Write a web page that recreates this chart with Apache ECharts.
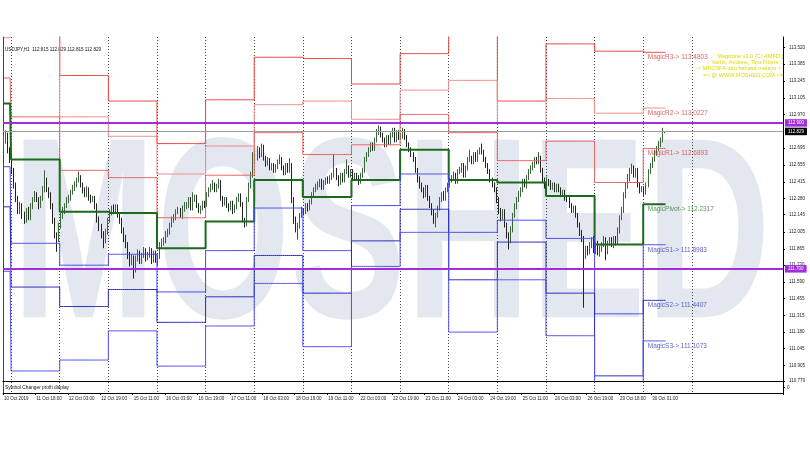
<!DOCTYPE html>
<html>
<head>
<meta charset="utf-8">
<script src="https://cdn.jsdelivr.net/npm/echarts@6/dist/echarts.min.js"></script>
<style>
  html, body { margin: 0; padding: 0; background: #fff; }
  #chart { width: 810px; height: 450px; }
</style>
</head>
<body>
<div id="chart"></div>
<script>
// USDJPY H1 with MagicPivot levels
const barCount = 385;
const labelStep = 16;
const tickLabels = ['10 Oct 2019', '11 Oct 18:00', '12 Oct 03:00', '12 Oct 19:00', '15 Oct 11:00', '16 Oct 03:00',
  '16 Oct 19:00', '17 Oct 11:00', '18 Oct 03:00', '18 Oct 19:00', '19 Oct 11:00', '22 Oct 03:00', '22 Oct 19:00',
  '23 Oct 11:00', '24 Oct 03:00', '24 Oct 19:00', '25 Oct 11:00', '26 Oct 03:00', '26 Oct 19:00', '29 Oct 18:00',
  '30 Oct 01:00'];
const dayStarts = [0, 4, 28, 52, 76, 100, 124, 148, 172, 196, 220, 244, 268, 292, 316];
const lastSeparator = 340;

const opens = [
  112.72,112.76,112.80,112.68,112.60,112.51,112.39,112.28,112.18,112.22,
  112.14,112.10,112.18,112.12,112.22,112.27,112.31,112.27,112.22,112.28,
  112.35,112.43,112.35,112.31,112.22,112.10,111.98,111.94,112.06,112.14,
  112.18,112.22,112.27,112.28,112.33,112.37,112.39,112.43,112.45,112.39,
  112.35,112.31,112.35,112.28,112.27,112.28,112.22,112.10,112.04,111.98,
  111.94,112.00,112.10,112.17,112.20,112.18,112.21,112.14,112.10,112.02,
  111.95,111.90,111.81,111.76,111.79,111.69,111.79,111.83,111.77,111.81,
  111.85,111.79,111.81,111.85,111.77,111.83,111.77,111.80,111.90,111.92,
  111.94,111.98,112.00,112.06,112.10,112.12,112.17,112.18,112.14,112.20,
  112.22,112.22,112.27,112.20,112.27,112.29,112.22,112.18,112.20,112.24,
  112.23,112.31,112.35,112.37,112.39,112.35,112.38,112.41,112.28,112.24,
  112.27,112.22,112.20,112.24,112.18,112.21,112.27,112.30,112.23,112.10,
  112.06,112.27,112.39,112.47,112.59,112.62,112.68,112.64,112.70,112.61,
  112.57,112.60,112.53,112.55,112.51,112.54,112.58,112.60,112.53,112.49,
  112.55,112.51,112.55,112.27,112.10,112.04,112.06,112.14,112.18,112.17,
  112.22,112.20,112.25,112.31,112.35,112.37,112.39,112.42,112.37,112.41,
  112.43,112.42,112.45,112.47,112.51,112.45,112.41,112.47,112.43,112.50,
  112.53,112.47,112.50,112.45,112.47,112.45,112.42,112.47,112.51,112.60,
  112.64,112.68,112.72,112.69,112.76,112.83,112.86,112.80,112.76,112.72,
  112.78,112.74,112.80,112.84,112.76,112.82,112.78,112.79,112.83,112.78,
  112.72,112.68,112.64,112.60,112.51,112.43,112.39,112.35,112.31,112.37,
  112.28,112.22,112.17,112.10,112.14,112.20,112.27,112.31,112.28,112.35,
  112.39,112.43,112.45,112.47,112.42,112.50,112.51,112.55,112.47,112.53,
  112.60,112.61,112.58,112.64,112.60,112.66,112.68,112.66,112.60,112.55,
  112.50,112.43,112.39,112.35,112.27,112.18,112.12,112.17,112.06,111.98,
  111.94,112.02,112.14,112.22,112.27,112.31,112.35,112.42,112.39,112.45,
  112.50,112.53,112.55,112.60,112.58,112.61,112.51,112.43,112.39,112.42,
  112.41,112.37,112.39,112.35,112.38,112.35,112.31,112.33,112.28,112.27,
  112.22,112.18,112.20,112.14,112.06,112.00,111.95,111.81,111.87,111.84,
  111.90,111.94,111.85,111.90,111.84,111.87,111.90,111.94,111.85,111.91,
  111.94,111.90,111.95,111.92,112.02,112.12,112.18,112.31,112.39,112.45,
  112.50,112.53,112.47,112.51,112.39,112.35,112.36,112.33,112.39,112.50,
  112.55,112.60,112.66,112.69,112.72,112.76,112.815
];
const closes = [
  112.76,112.80,112.68,112.60,112.51,112.39,112.28,112.18,112.22,112.14,
  112.10,112.18,112.12,112.22,112.27,112.31,112.27,112.22,112.28,112.35,
  112.43,112.35,112.31,112.22,112.10,111.98,111.94,112.06,112.14,112.18,
  112.22,112.27,112.28,112.33,112.37,112.39,112.43,112.45,112.39,112.35,
  112.31,112.35,112.28,112.27,112.28,112.22,112.10,112.04,111.98,111.94,
  112.00,112.10,112.17,112.20,112.18,112.21,112.14,112.10,112.02,111.95,
  111.90,111.81,111.76,111.79,111.69,111.79,111.83,111.77,111.81,111.85,
  111.79,111.81,111.85,111.77,111.83,111.77,111.80,111.90,111.92,111.94,
  111.98,112.00,112.06,112.10,112.12,112.17,112.18,112.14,112.20,112.22,
  112.22,112.27,112.20,112.27,112.29,112.22,112.18,112.20,112.24,112.23,
  112.31,112.35,112.37,112.39,112.35,112.38,112.41,112.28,112.24,112.27,
  112.22,112.20,112.24,112.18,112.21,112.27,112.30,112.23,112.10,112.06,
  112.27,112.39,112.47,112.59,112.62,112.68,112.64,112.70,112.61,112.57,
  112.60,112.53,112.55,112.51,112.54,112.58,112.60,112.53,112.49,112.55,
  112.51,112.55,112.27,112.10,112.04,112.06,112.14,112.18,112.17,112.22,
  112.20,112.25,112.31,112.35,112.37,112.39,112.42,112.37,112.41,112.43,
  112.42,112.45,112.47,112.51,112.45,112.41,112.47,112.43,112.50,112.53,
  112.47,112.50,112.45,112.47,112.45,112.42,112.47,112.51,112.60,112.64,
  112.68,112.72,112.69,112.76,112.83,112.86,112.80,112.76,112.72,112.78,
  112.74,112.80,112.84,112.76,112.82,112.78,112.79,112.83,112.78,112.72,
  112.68,112.64,112.60,112.51,112.43,112.39,112.35,112.31,112.37,112.28,
  112.22,112.17,112.10,112.14,112.20,112.27,112.31,112.28,112.35,112.39,
  112.43,112.45,112.47,112.42,112.50,112.51,112.55,112.47,112.53,112.60,
  112.61,112.58,112.64,112.60,112.66,112.68,112.66,112.60,112.55,112.50,
  112.43,112.39,112.35,112.27,112.18,112.12,112.17,112.06,111.98,111.94,
  112.02,112.14,112.22,112.27,112.31,112.35,112.42,112.39,112.45,112.50,
  112.53,112.55,112.60,112.58,112.61,112.51,112.43,112.39,112.42,112.41,
  112.37,112.39,112.35,112.38,112.35,112.31,112.33,112.28,112.27,112.22,
  112.18,112.20,112.14,112.06,112.00,111.95,111.81,111.87,111.84,111.90,
  111.94,111.85,111.90,111.84,111.87,111.90,111.94,111.85,111.91,111.94,
  111.90,111.95,111.92,112.02,112.12,112.18,112.31,112.39,112.45,112.50,
  112.53,112.47,112.51,112.39,112.35,112.36,112.33,112.39,112.50,112.55,
  112.60,112.66,112.69,112.72,112.76,112.81,112.829
];
const highs = [
  112.79,112.84,112.82,112.70,112.62,112.53,112.41,112.30,112.25,112.24,
  112.17,112.20,112.21,112.24,112.29,112.34,112.33,112.29,112.30,112.38,
  112.51,112.45,112.37,112.33,112.24,112.12,112.00,112.08,112.16,112.21,
  112.24,112.29,112.31,112.35,112.39,112.42,112.45,112.50,112.47,112.41,
  112.37,112.38,112.37,112.31,112.30,112.30,112.24,112.13,112.07,112.01,
  112.03,112.12,112.19,112.22,112.23,112.23,112.23,112.16,112.12,112.04,
  111.98,111.92,111.84,111.82,111.81,111.81,111.86,111.85,111.83,111.88,
  111.87,111.84,111.88,111.87,111.85,111.85,111.82,111.92,111.95,111.96,
  112.01,112.03,112.08,112.13,112.15,112.19,112.21,112.20,112.22,112.25,
  112.25,112.29,112.29,112.33,112.31,112.31,112.24,112.22,112.26,112.26,
  112.33,112.37,112.40,112.43,112.41,112.40,112.44,112.43,112.30,112.29,
  112.29,112.24,112.26,112.26,112.23,112.29,112.32,112.32,112.25,112.12,
  112.29,112.41,112.50,112.66,112.65,112.71,112.70,112.73,112.72,112.63,
  112.62,112.61,112.57,112.57,112.56,112.60,112.64,112.62,112.55,112.57,
  112.57,112.61,112.57,112.29,112.13,112.08,112.16,112.21,112.20,112.24,
  112.24,112.27,112.33,112.37,112.40,112.42,112.44,112.44,112.43,112.45,
  112.46,112.47,112.49,112.64,112.53,112.47,112.49,112.49,112.52,112.60,
  112.55,112.52,112.52,112.49,112.49,112.47,112.49,112.53,112.62,112.66,
  112.70,112.74,112.74,112.78,112.85,112.88,112.87,112.82,112.78,112.80,
  112.80,112.82,112.86,112.86,112.84,112.84,112.81,112.86,112.85,112.80,
  112.74,112.70,112.66,112.62,112.53,112.46,112.41,112.37,112.39,112.39,
  112.30,112.24,112.19,112.16,112.22,112.29,112.33,112.34,112.37,112.41,
  112.45,112.47,112.50,112.49,112.52,112.54,112.57,112.57,112.55,112.62,
  112.68,112.63,112.66,112.66,112.68,112.70,112.73,112.68,112.62,112.57,
  112.52,112.45,112.41,112.37,112.29,112.20,112.19,112.19,112.08,112.00,
  112.05,112.16,112.24,112.29,112.34,112.37,112.44,112.44,112.47,112.52,
  112.55,112.58,112.62,112.62,112.66,112.63,112.53,112.45,112.46,112.44,
  112.43,112.41,112.41,112.40,112.40,112.37,112.35,112.35,112.30,112.29,
  112.24,112.22,112.22,112.16,112.08,112.02,111.97,111.89,111.89,111.92,
  111.96,111.97,111.92,111.93,111.89,111.92,111.97,111.96,111.93,111.96,
  111.96,111.97,111.97,112.04,112.14,112.21,112.33,112.41,112.48,112.53,
  112.565,112.55,112.53,112.53,112.41,112.38,112.38,112.41,112.52,112.57,
  112.62,112.68,112.71,112.75,112.78,112.86,112.829
];
const lows = [
  112.69,112.73,112.65,112.57,112.48,112.36,112.25,112.15,112.15,112.11,
  112.07,112.08,112.10,112.10,112.19,112.25,112.25,112.19,112.20,112.26,
  112.33,112.33,112.28,112.19,112.07,111.95,111.84,111.92,112.03,112.11,
  112.15,112.20,112.24,112.26,112.31,112.34,112.37,112.41,112.37,112.32,
  112.29,112.29,112.26,112.24,112.25,112.19,112.08,112.01,111.95,111.87,
  111.91,111.98,112.08,112.14,112.15,112.16,112.12,112.07,111.99,111.92,
  111.87,111.78,111.72,111.73,111.62,111.67,111.76,111.74,111.74,111.79,
  111.76,111.77,111.79,111.74,111.75,111.75,111.73,111.78,111.87,111.89,
  111.91,111.96,111.98,112.04,112.08,112.10,112.15,112.12,112.11,112.17,
  112.19,112.20,112.18,112.18,112.25,112.20,112.16,112.15,112.18,112.20,
  112.21,112.29,112.33,112.35,112.33,112.33,112.36,112.26,112.21,112.22,
  112.20,112.17,112.18,112.15,112.16,112.19,112.25,112.21,112.08,112.04,
  112.05,112.25,112.36,112.45,112.56,112.59,112.61,112.62,112.59,112.54,
  112.55,112.51,112.51,112.49,112.49,112.52,112.56,112.51,112.47,112.47,
  112.49,112.49,112.24,112.07,112.00,111.94,112.03,112.12,112.14,112.15,
  112.17,112.18,112.23,112.29,112.33,112.35,112.37,112.35,112.35,112.39,
  112.40,112.40,112.43,112.45,112.43,112.38,112.39,112.41,112.41,112.48,
  112.45,112.45,112.43,112.43,112.43,112.39,112.40,112.45,112.49,112.58,
  112.62,112.66,112.67,112.67,112.74,112.80,112.78,112.74,112.70,112.70,
  112.72,112.72,112.78,112.74,112.74,112.76,112.76,112.77,112.76,112.70,
  112.66,112.62,112.58,112.49,112.41,112.36,112.33,112.28,112.29,112.26,
  112.20,112.14,112.07,112.04,112.12,112.18,112.25,112.26,112.26,112.33,
  112.37,112.41,112.43,112.40,112.40,112.48,112.49,112.45,112.45,112.51,
  112.58,112.56,112.56,112.58,112.58,112.64,112.64,112.58,112.53,112.48,
  112.41,112.37,112.33,112.24,112.15,112.09,112.10,112.04,111.95,111.86,
  111.91,112.00,112.12,112.19,112.25,112.29,112.33,112.37,112.36,112.43,
  112.48,112.51,112.53,112.56,112.56,112.49,112.41,112.36,112.37,112.38,
  112.35,112.35,112.33,112.33,112.33,112.29,112.29,112.26,112.25,112.20,
  112.16,112.16,112.12,112.04,111.97,111.92,111.38,111.78,111.81,111.82,
  111.87,111.83,111.82,111.81,111.80,111.84,111.88,111.77,111.82,111.89,
  111.88,111.87,111.89,111.90,111.99,112.10,112.16,112.28,112.36,112.42,
  112.48,112.45,112.45,112.37,112.32,112.33,112.30,112.31,112.37,112.48,
  112.53,112.58,112.63,112.67,112.70,112.74,112.815
];

// daily pivot levels, one value per day (dayStarts)
const levelR3 = [113.90, 113.99, 113.29, 113.08, 112.73, 113.09, 113.44, 113.43, 113.22, 113.47, 113.64, 113.08, 113.55, 113.49, 113.4803];
const levelR2 = [113.60, 113.64, 112.95, 112.79, 112.48, 112.71, 113.05, 113.08, 112.93, 113.17, 113.25, 112.90, 113.10, 112.98, 113.0227];
const levelR1 = [113.27, 112.95, 112.51, 112.45, 112.12, 112.47, 112.82, 112.64, 112.72, 112.97, 112.82, 112.59, 112.75, 112.41, 112.6893];
const levelP  = [113.06, 112.60, 112.17, 112.16, 111.87, 112.09, 112.43, 112.29, 112.43, 112.68, 112.43, 112.41, 112.30, 111.90, 112.2317];
const levelS1 = [112.54, 111.91, 111.73, 111.82, 111.51, 111.85, 112.20, 111.85, 112.22, 112.48, 112.00, 112.10, 111.95, 111.33, 111.8983];
const levelS2 = [112.21, 111.55, 111.39, 111.53, 111.26, 111.47, 111.81, 111.50, 111.93, 112.19, 111.61, 111.92, 111.50, 110.82, 111.4407];
const levelS3 = [111.68, 110.86, 110.95, 111.19, 110.90, 111.23, 111.58, 111.06, 111.72, 112.00, 111.18, 111.61, 111.15, 110.25, 111.1073];

const priceTicks = [113.520, 113.385, 113.245, 113.105, 112.970, 112.695, 112.555, 112.415, 112.280, 112.145,
  112.005, 111.865, 111.730, 111.590, 111.455, 111.315, 111.180, 111.045, 110.905, 110.779];
const purpleLevels = [112.900, 111.700];
const lastPrice = 112.829;
const yMin = 110.7776, yMax = 113.6066;

const infoLines = ['Magicline v2.0 (C) AMFD ]', ':: Vertix, Andrew, Tipu Fibers ::',
  '-> MRCSFA dan bahasa melayu <-', '=> @ WWW.MOSHED.COM <='];

const font = '"Liberation Sans", Arial, sans-serif';
const purple = '#a12ddc';

const categories = Array.from({length: barCount}, (_, i) => String(i));
const candles = opens.map((o, i) => [o, closes[i], lows[i], highs[i]]);
const separatorBars = dayStarts.slice(1).concat([lastSeparator]);
const isSep = (i) => separatorBars.indexOf(i) >= 0;
const isLabel = (i) => i % labelStep === 0 && i / labelStep < tickLabels.length;

function stepData(levels) {
  let d = 0;
  return categories.map((c, i) => {
    if (i >= closes.length) return '-';
    while (d + 1 < dayStarts.length && i >= dayStarts[d + 1]) d++;
    return levels[d];
  });
}

const levelDefs = [
  {name: 'R3', values: levelR3, color: '#e84444', text: '#d23a3a', width: 1},
  {name: 'R2', values: levelR2, color: '#f08a8a', text: '#d23a3a', width: 1},
  {name: 'R1', values: levelR1, color: '#e86262', text: '#d23a3a', width: 1},
  {name: 'Pivot', values: levelP, color: '#1c6a1c', text: '#2a7a2a', width: 2},
  {name: 'S1', values: levelS1, color: '#4a4ae8', text: '#3838b4', width: 1},
  {name: 'S2', values: levelS2, color: '#2b2bb8', text: '#3838b4', width: 1},
  {name: 'S3', values: levelS3, color: '#5252ee', text: '#3838b4', width: 1}
];

const sepLine = {show: true, interval: isSep, lineStyle: {color: '#444', type: [1, 2], width: 1}};

const series = [{
  type: 'candlestick',
  xAxisIndex: 0, yAxisIndex: 0,
  data: candles,
  barWidth: 1,
  itemStyle: {color: '#a4a4a4', color0: '#8a8a8a', borderColor: '#3b663b', borderColor0: '#222', borderWidth: 1},
  markLine: {
    symbol: ['none', 'none'],
    silent: true,
    animation: false,
    label: {position: 'end', distance: 2, color: '#fff', fontSize: 4.5, fontFamily: font, padding: [1.5, 3, 1, 3]},
    data: [
      {yAxis: purpleLevels[0], lineStyle: {color: purple, width: 2, type: 'solid'},
        label: {formatter: purpleLevels[0].toFixed(3), backgroundColor: purple}},
      {yAxis: purpleLevels[1], lineStyle: {color: purple, width: 2, type: 'solid'},
        label: {formatter: purpleLevels[1].toFixed(3), backgroundColor: purple}},
      {yAxis: lastPrice, lineStyle: {color: '#9c9c9c', width: 1, type: 'solid'},
        label: {formatter: lastPrice.toFixed(3), backgroundColor: '#000'}}
    ]
  }
}];

levelDefs.forEach(l => {
  series.push({
    type: 'line', name: l.name,
    xAxisIndex: 0, yAxisIndex: 0,
    data: stepData(l.values),
    step: 'middle',
    symbol: 'none',
    silent: true,
    z: 3,
    lineStyle: {color: l.color, width: l.width},
    itemStyle: {color: l.color}
  });
});

const today = dayStarts[dayStarts.length - 1];
series.push({
  type: 'scatter',
  xAxisIndex: 0, yAxisIndex: 0,
  symbolSize: 1,
  silent: true,
  z: 4,
  itemStyle: {color: 'rgba(0,0,0,0)'},
  label: {show: true, position: 'right', distance: 3, offset: [0, 5], fontSize: 6.5, fontFamily: font},
  data: levelDefs.map(l => {
    const v = l.values[l.values.length - 1];
    return {value: [today, v], label: {color: l.text, formatter: 'Magic' + l.name + '-> ' + v.toFixed(4)}};
  })
});

const chart = echarts.init(document.getElementById('chart'));
chart.setOption({
  animation: false,
  backgroundColor: '#fff',
  grid: [
    {left: 3, top: 37, width: 780, height: 344, outerBoundsMode: 'none'},
    {left: 3, top: 382, width: 780, height: 11, outerBoundsMode: 'none'}
  ],
  xAxis: [
    {type: 'category', gridIndex: 0, data: categories, boundaryGap: true,
      axisLine: {show: true, onZero: false, lineStyle: {color: '#000', width: 1}},
      axisTick: {show: false}, axisLabel: {show: false}, splitLine: sepLine},
    {type: 'category', gridIndex: 1, data: categories, boundaryGap: true,
      axisLine: {show: true, onZero: false, lineStyle: {color: '#000', width: 1}},
      axisTick: {show: true, interval: isLabel, length: 2, lineStyle: {color: '#000'}},
      axisLabel: {show: true, interval: isLabel, formatter: (v, i) => tickLabels[i / labelStep],
        align: 'left', fontSize: 4.5, fontFamily: font, color: '#222', margin: 3},
      splitLine: sepLine}
  ],
  yAxis: [
    {type: 'value', gridIndex: 0, position: 'right', min: yMin, max: yMax,
      axisLine: {show: true, lineStyle: {color: '#000'}},
      axisTick: {show: true, customValues: priceTicks, length: 2, lineStyle: {color: '#000'}},
      axisLabel: {customValues: priceTicks, formatter: v => v.toFixed(3), fontSize: 4.5, fontFamily: font, color: '#222', margin: 6},
      splitLine: {show: false}},
    {type: 'value', gridIndex: 1, position: 'right', min: -1, max: 1,
      axisLine: {show: true, lineStyle: {color: '#000'}},
      axisTick: {show: true, customValues: [0], length: 2, lineStyle: {color: '#000'}},
      axisLabel: {customValues: [0], formatter: () => '0', fontSize: 4.5, fontFamily: font, color: '#222', margin: 4},
      splitLine: {show: false}},
    {type: 'value', gridIndex: 0, position: 'left', min: yMin, max: yMax,
      axisLine: {show: true, lineStyle: {color: '#444'}}, axisTick: {show: false}, axisLabel: {show: false}, splitLine: {show: false}},
    {type: 'value', gridIndex: 1, position: 'left', min: -1, max: 1,
      axisLine: {show: true, lineStyle: {color: '#444'}}, axisTick: {show: false}, axisLabel: {show: false}, splitLine: {show: false}}
  ],
  graphic: [
    {type: 'text', x: 12, y: 246, scaleX: 0.67, z: -10, silent: true,
      style: {text: 'MOSHED', fontSize: 258, fontWeight: 'bold', fontFamily: font, fill: '#e3e7ef', align: 'left', verticalAlign: 'middle'}},
    {type: 'text', x: 5, y: 50, silent: true,
      style: {text: 'USDJPY,H1  112.815 112.829 112.815 112.829', fontSize: 4.6, fontFamily: font, fill: '#111', verticalAlign: 'middle'}},
    {type: 'text', x: 783, y: 53, silent: true,
      style: {text: infoLines.join('\n'), fontSize: 5.6, lineHeight: 6.3, fontFamily: font, fill: '#e2d600', align: 'right', verticalAlign: 'top'}},
    {type: 'text', x: 5, y: 388, silent: true,
      style: {text: 'Symbol Changer profit display', fontSize: 4.8, fontFamily: font, fill: '#111', verticalAlign: 'middle'}}
  ],
  series: series
});
</script>
</body>
</html>
